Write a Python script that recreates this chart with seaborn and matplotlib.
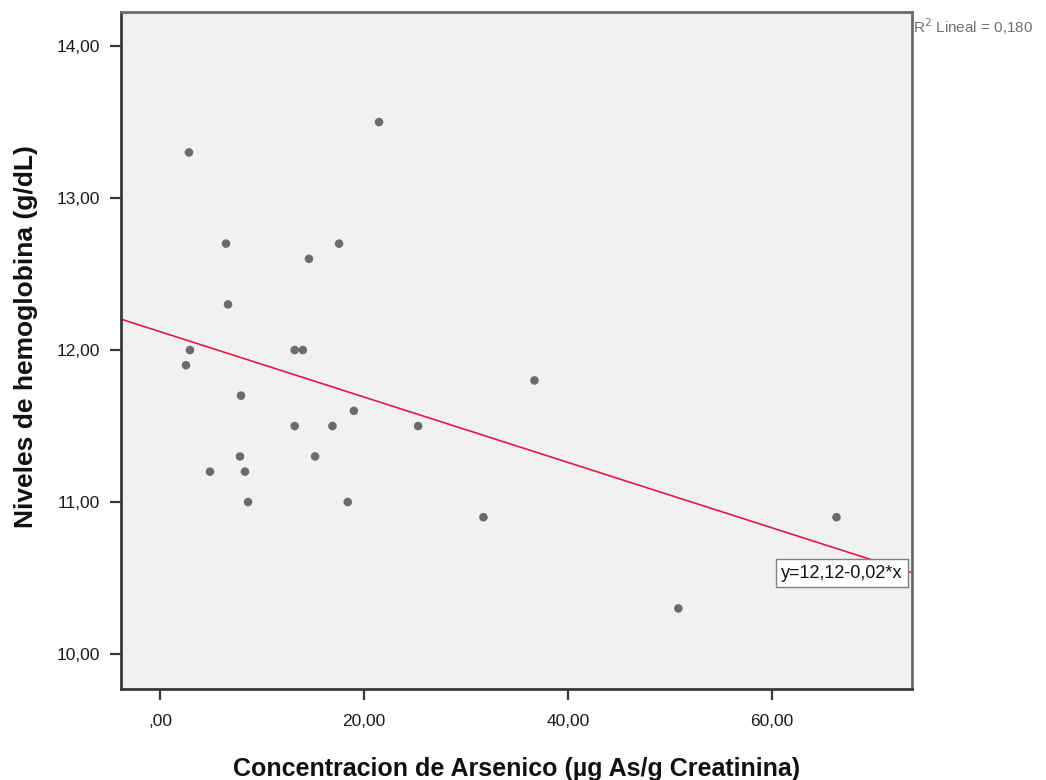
import matplotlib
matplotlib.use("Agg")
import matplotlib.pyplot as plt
import seaborn as sns
import pandas as pd

# Data
arsenico = [2.84, 21.47, 6.47, 17.55, 14.6, 6.67, 2.94, 13.2, 14.0, 2.55, 36.7, 7.94,
            19.0, 13.2, 16.9, 25.3, 7.84, 15.2, 4.9, 8.33, 8.63, 18.4, 31.7, 66.3, 50.8]
hemoglobina = [13.3, 13.5, 12.7, 12.7, 12.6, 12.3, 12.0, 12.0, 12.0, 11.9, 11.8, 11.7,
               11.6, 11.5, 11.5, 11.5, 11.3, 11.3, 11.2, 11.2, 11.0, 11.0, 10.9, 10.9, 10.3]

x_ticks = [0, 20, 40, 60]
x_tick_labels = [",00", "20,00", "40,00", "60,00"]
y_ticks = [10, 11, 12, 13, 14]
y_tick_labels = ["10,00", "11,00", "12,00", "13,00", "14,00"]

x_label = "Concentracion de Arsenico (µg As/g Creatinina)"
y_label = "Niveles de hemoglobina (g/dL)"
r2_text = "R$^2$ Lineal = 0,180"
eq_text = "y=12,12-0,02*x"

df = pd.DataFrame({"x": arsenico, "y": hemoglobina})

sns.set_theme(style="white")
plt.rcParams["font.family"] = ["Liberation Sans", "DejaVu Sans"]

fig = plt.figure(figsize=(10.46, 7.8), dpi=100)
ax = fig.add_axes([121 / 1046, 1 - 689 / 780, (912 - 121) / 1046, (689 - 12) / 780])
ax.set_facecolor("#f1f1f1")

xlim = (-3.82, 73.7)
ylim = (9.77, 14.224)
ax.set_xlim(*xlim)
ax.set_ylim(*ylim)

sns.regplot(data=df, x="x", y="y", ax=ax, ci=None, truncate=False,
            scatter_kws=dict(s=38, color="#6b6b6b", edgecolor="none", alpha=1, zorder=3),
            line_kws=dict(color="#e3174d", lw=1.2, zorder=2))

ax.set_xlim(*xlim)
ax.set_ylim(*ylim)

ax.set_xticks(x_ticks)
ax.set_xticklabels(x_tick_labels)
ax.set_yticks(y_ticks)
ax.set_yticklabels(y_tick_labels)
ax.tick_params(axis="both", which="both", direction="out", length=8, width=1.6,
               color="#3a3a3a", labelsize=12.5, labelcolor="#1a1a1a", left=True, bottom=True)
ax.tick_params(axis="x", pad=10)
ax.tick_params(axis="y", pad=7)

for side in ["left", "bottom"]:
    ax.spines[side].set_color("#3a3a3a")
    ax.spines[side].set_linewidth(2.0)
for side in ["top", "right"]:
    ax.spines[side].set_visible(True)
    ax.spines[side].set_color("#6a6a6a")
    ax.spines[side].set_linewidth(2.0)

ax.set_xlabel(x_label, fontsize=18, fontweight="bold", labelpad=20, color="#111111")
ax.set_ylabel(y_label, fontsize=19, fontweight="bold", color="#111111")
ax.yaxis.set_label_coords(-0.1045, 0.521)
ax.grid(False)

ax.text(1.0015, 0.978, r2_text, transform=ax.transAxes, ha="left", va="center",
        fontsize=11, color="#707070")

ax.text(60.9, 10.533, eq_text, ha="left", va="center", fontsize=13, color="#111111",
        zorder=5,
        bbox=dict(boxstyle="square,pad=0.3", facecolor="white", edgecolor="#808080", lw=1.0))

fig.savefig("out.png", dpi=100)
